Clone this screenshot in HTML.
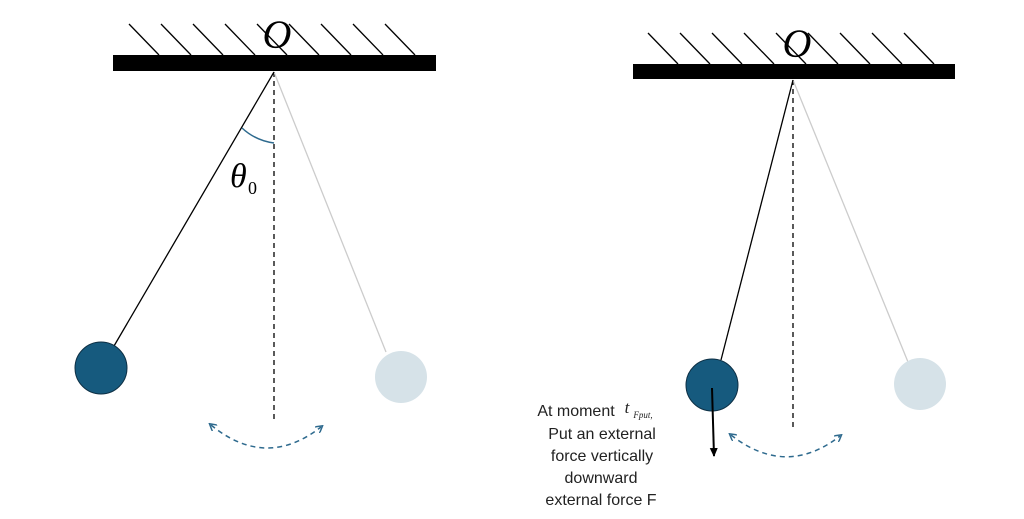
<!DOCTYPE html>
<html><head><style>body{margin:0;background:#fff}svg{display:block}</style></head><body>
<svg width="1024" height="519" xmlns="http://www.w3.org/2000/svg" font-family="Liberation Sans, sans-serif">
<defs><marker id="ab" markerWidth="8" markerHeight="8" refX="5" refY="4" orient="auto-start-reverse" markerUnits="userSpaceOnUse"><path d="M0,0 L7,4 L0,8" fill="none" stroke="#2e6a8e" stroke-width="1.5"/></marker>
<marker id="ak" markerWidth="10" markerHeight="10" refX="8" refY="5" orient="auto" markerUnits="userSpaceOnUse"><path d="M0,1 L9,5 L0,9 Z" fill="#000"/></marker></defs>
<g stroke="#000" stroke-width="1.3">
<line x1="129" y1="24" x2="159" y2="55"/><line x1="161" y1="24" x2="191" y2="55"/><line x1="193" y1="24" x2="223" y2="55"/><line x1="225" y1="24" x2="255" y2="55"/><line x1="257" y1="24" x2="287" y2="55"/><line x1="289" y1="24" x2="319" y2="55"/><line x1="321" y1="24" x2="351" y2="55"/><line x1="353" y1="24" x2="383" y2="55"/><line x1="385" y1="24" x2="415" y2="55"/>
<line x1="648" y1="33" x2="678" y2="64"/><line x1="680" y1="33" x2="710" y2="64"/><line x1="712" y1="33" x2="742" y2="64"/><line x1="744" y1="33" x2="774" y2="64"/><line x1="776" y1="33" x2="806" y2="64"/><line x1="808" y1="33" x2="838" y2="64"/><line x1="840" y1="33" x2="870" y2="64"/><line x1="872" y1="33" x2="902" y2="64"/><line x1="904" y1="33" x2="934" y2="64"/>
</g>
<rect x="113" y="55" width="323" height="16" fill="#000"/>
<rect x="633" y="64" width="322" height="15" fill="#000"/>
<text x="277" y="48" font-family="Liberation Serif, serif" font-style="italic" font-size="40" text-anchor="middle">O</text>
<text x="797" y="57" font-family="Liberation Serif, serif" font-style="italic" font-size="40" text-anchor="middle">O</text>
<line x1="274" y1="72" x2="274" y2="420" stroke="#000" stroke-width="1.3" stroke-dasharray="5,4"/>
<line x1="274" y1="72" x2="386" y2="352" stroke="#ccc" stroke-width="1.3"/>
<line x1="274" y1="72" x2="114" y2="346" stroke="#000" stroke-width="1.3"/>
<path d="M242,128 A58,58 0 0 0 274,143" fill="none" stroke="#2e6a8e" stroke-width="1.5"/>
<text x="230" y="187" font-family="Liberation Serif, serif" font-style="italic" font-size="34">θ</text>
<text x="248" y="194" font-family="Liberation Serif, serif" font-size="18">0</text>
<circle cx="101" cy="368" r="26" fill="#165a7e" stroke="#0d2f44" stroke-width="1"/>
<circle cx="401" cy="377" r="26" fill="#d6e2e8"/>
<path d="M211,425 Q266,470 321,427" fill="none" stroke="#2e6a8e" stroke-width="1.5" stroke-dasharray="5,4" marker-start="url(#ab)" marker-end="url(#ab)"/>
<line x1="793" y1="80" x2="793" y2="430" stroke="#000" stroke-width="1.3" stroke-dasharray="5,4"/>
<line x1="793" y1="80" x2="908" y2="362" stroke="#ccc" stroke-width="1.3"/>
<line x1="793" y1="80" x2="721" y2="360" stroke="#000" stroke-width="1.3"/>
<circle cx="712" cy="385" r="26" fill="#165a7e" stroke="#0d2f44" stroke-width="1"/>
<circle cx="920" cy="384" r="26" fill="#d6e2e8"/>
<line x1="712" y1="388" x2="714" y2="456" stroke="#000" stroke-width="2" marker-end="url(#ak)"/>
<path d="M731,435 Q786,478 840,436" fill="none" stroke="#2e6a8e" stroke-width="1.5" stroke-dasharray="5,4" marker-start="url(#ab)" marker-end="url(#ab)"/>
<g font-size="16" fill="#222" text-anchor="middle">
<text x="576" y="416">At moment</text>
<text x="627" y="413" font-family="Liberation Serif, serif" font-style="italic" font-size="17">t</text>
<text x="643" y="418" font-family="Liberation Serif, serif" font-style="italic" font-size="9">Fput,</text>
<text x="602" y="439">Put an external</text>
<text x="602" y="461">force vertically</text>
<text x="601" y="483">downward</text>
<text x="601" y="505">external force F</text>
</g>
</svg>
</body></html>
